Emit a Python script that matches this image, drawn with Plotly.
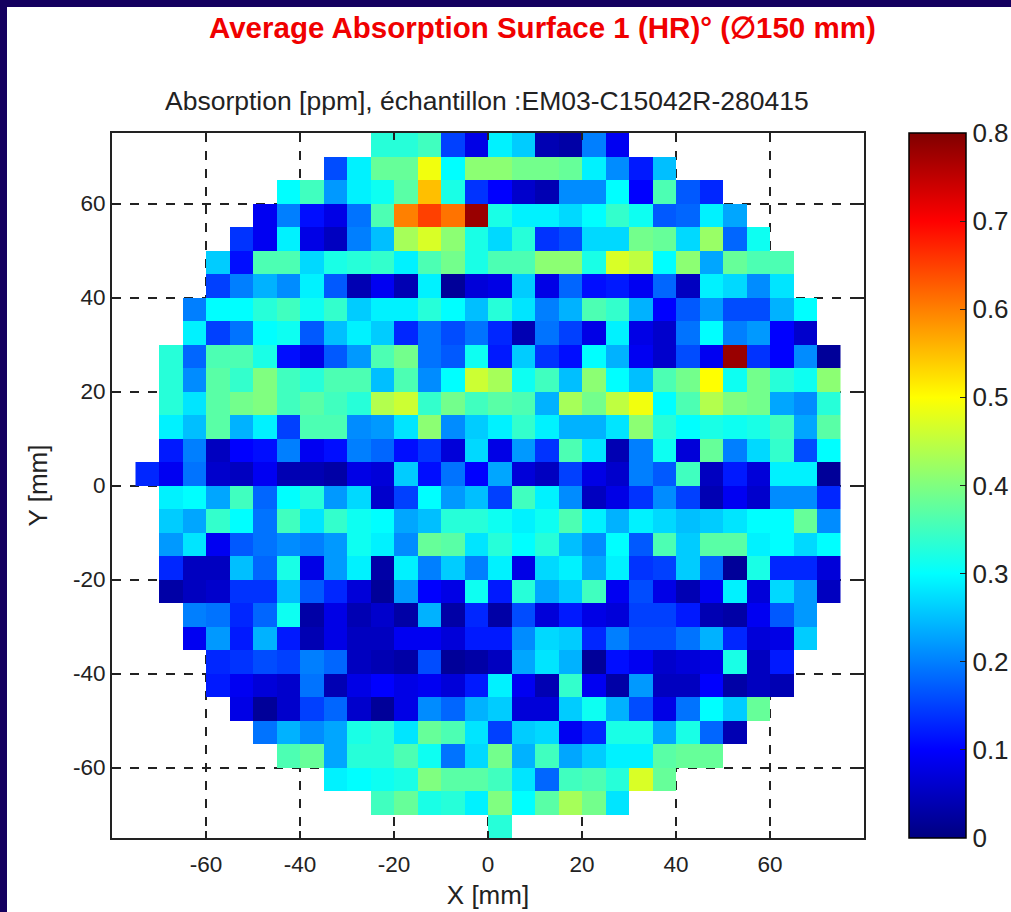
import plotly.graph_objects as go

N = None
x_edges = [-75 + 5 * i for i in range(31)]
y_edges = [75 - 5 * i for i in range(31)]

row_00 = [N]*10 + [.33,.33,.35,.15,.08,.29,.26,.04,.03,.20,.09] + [N]*9
row_01 = [N]*8 + [.16,.29,.38,.38,.49,.30,.41,.41,.39,.39,.38,.29,.21,.12,.25] + [N]*7
row_02 = [N]*6 + [.30,.35,.22,.29,.31,.37,.55,.32,.14,.10,.06,.04,.21,.21,.30,.10,.36,.17,.13] + [N]*5
row_03 = [N]*5 + [.09,.20,.11,.08,.19,.36,.60,.65,.61,.78,.32,.29,.29,.27,.30,.34,.31,.17,.18,.29,.23] + [N]*4
row_04 = [N]*4 + [.14,.09,.29,.08,.05,.20,.25,.43,.47,.41,.32,.27,.33,.14,.16,.27,.27,.39,.38,.27,.42,.18,.31] + [N]*3
row_05 = [N]*3 + [.26,.11,.36,.36,.27,.32,.33,.34,.29,.36,.39,.32,.36,.36,.41,.41,.32,.47,.45,.30,.41,.23,.38,.36,.36] + [N]*2
row_06 = [N]*3 + [.15,.20,.24,.21,.29,.17,.04,.09,.04,.29,.02,.07,.08,.26,.08,.18,.11,.12,.09,.18,.05,.29,.27,.21,.28] + [N]*2
row_07 = [N]*2 + [.20,.30,.30,.33,.35,.31,.34,.26,.29,.29,.33,.30,.25,.33,.28,.20,.24,.36,.34,.24,.10,.17,.22,.16,.16,.24,.30] + [N]
row_08 = [N]*2 + [.29,.15,.19,.30,.31,.17,.25,.29,.26,.13,.19,.16,.19,.13,.04,.19,.15,.08,.29,.08,.06,.19,.30,.20,.22,.10,.06] + [N]
row_09 = [N] + [.33,.18,.36,.36,.32,.11,.08,.17,.22,.36,.39,.19,.17,.31,.12,.26,.14,.11,.30,.24,.09,.06,.16,.09,.78,.14,.10,.21,.02]
row_10 = [N] + [.33,.21,.37,.34,.40,.35,.33,.36,.36,.25,.36,.21,.30,.46,.43,.31,.35,.25,.41,.30,.25,.36,.39,.50,.31,.39,.33,.31,.41]
row_11 = [N] + [.33,.28,.37,.39,.40,.35,.37,.35,.33,.44,.46,.34,.39,.35,.37,.36,.24,.43,.39,.45,.49,.30,.36,.44,.40,.39,.23,.21,.33]
row_12 = [N] + [.29,.25,.37,.24,.29,.15,.36,.36,.21,.22,.28,.41,.21,.26,.29,.34,.29,.24,.24,.28,.41,.33,.30,.32,.31,.32,.35,.23,.37]
row_13 = [N] + [.12,.20,.05,.10,.11,.20,.09,.11,.20,.18,.11,.14,.07,.27,.08,.22,.14,.36,.28,.04,.20,.31,.07,.38,.20,.27,.34,.16,.30]
row_14 = [.13,.09,.19,.06,.05,.09,.04,.04,.03,.08,.07,.26,.11,.19,.10,.23,.07,.05,.15,.08,.06,.20,.17,.35,.05,.12,.07,.29,.29,.02]
row_15 = [N] + [.29,.30,.23,.35,.18,.30,.33,.22,.27,.06,.15,.30,.22,.25,.15,.35,.29,.21,.05,.08,.14,.21,.15,.04,.09,.06,.21,.21,.13]
row_16 = [N] + [.26,.23,.34,.30,.19,.35,.28,.34,.31,.30,.23,.25,.33,.33,.31,.29,.31,.36,.29,.24,.29,.27,.25,.26,.28,.30,.30,.38,.21]
row_17 = [N] + [.22,.28,.09,.17,.19,.21,.20,.22,.31,.29,.21,.38,.37,.28,.33,.30,.33,.25,.21,.30,.17,.36,.26,.37,.37,.29,.30,.27,.30]
row_18 = [N] + [.13,.05,.05,.25,.18,.32,.08,.22,.29,.03,.29,.20,.26,.20,.29,.08,.27,.29,.23,.29,.14,.15,.26,.18,.02,.32,.13,.13,.07]
row_19 = [N] + [.03,.05,.06,.14,.14,.25,.17,.13,.07,.02,.22,.10,.08,.31,.12,.33,.23,.26,.35,.09,.16,.08,.04,.09,.29,.07,.27,.22,.05]
row_20 = [N]*2 + [.20,.19,.13,.18,.31,.03,.08,.04,.06,.03,.24,.03,.13,.03,.16,.07,.12,.08,.07,.15,.15,.12,.04,.03,.09,.17,.22] + [N]
row_21 = [N]*2 + [.09,.22,.12,.24,.12,.04,.08,.05,.05,.09,.09,.07,.12,.12,.21,.27,.26,.13,.20,.16,.16,.19,.24,.13,.07,.08,.26] + [N]
row_22 = [N]*3 + [.13,.14,.16,.15,.20,.18,.05,.04,.03,.16,.02,.03,.05,.23,.28,.24,.02,.11,.09,.06,.07,.08,.32,.05,.12] + [N]*2
row_23 = [N]*3 + [.12,.09,.07,.06,.19,.04,.08,.10,.08,.09,.07,.12,.29,.09,.04,.34,.09,.03,.22,.05,.05,.10,.03,.05,.04] + [N]*2
row_24 = [N]*4 + [.08,.02,.06,.15,.18,.06,.02,.08,.21,.18,.24,.26,.07,.07,.26,.31,.24,.16,.08,.19,.30,.26,.38] + [N]*3
row_25 = [N]*5 + [.19,.24,.21,.23,.32,.33,.28,.38,.36,.28,.15,.26,.27,.09,.13,.32,.32,.23,.32,.18,.04] + [N]*4
row_26 = [N]*6 + [.36,.38,.23,.33,.33,.36,.31,.19,.27,.39,.24,.35,.23,.26,.29,.29,.37,.38,.38] + [N]*5
row_27 = [N]*8 + [.29,.30,.31,.32,.40,.37,.37,.35,.28,.18,.35,.36,.33,.47,.38] + [N]*7
row_28 = [N]*10 + [.35,.38,.32,.33,.29,.40,.30,.37,.43,.39,.28] + [N]*9
row_29 = [N]*15 + [.33] + [N]*14

absorption = [row_00,row_01,row_02,row_03,row_04,row_05,row_06,row_07,row_08,row_09,
              row_10,row_11,row_12,row_13,row_14,row_15,row_16,row_17,row_18,row_19,
              row_20,row_21,row_22,row_23,row_24,row_25,row_26,row_27,row_28,row_29]

axis_ticks = [-60, -40, -20, 0, 20, 40, 60]
axis_labels = ["-60", "-40", "-20", "0", "20", "40", "60"]
bar_ticks = [0, 0.1, 0.2, 0.3, 0.4, 0.5, 0.6, 0.7, 0.8]
bar_labels = ["0", "0.1", "0.2", "0.3", "0.4", "0.5", "0.6", "0.7", "0.8"]

jet = [[0, "rgb(0,0,128)"], [0.125, "rgb(0,0,255)"], [0.375, "rgb(0,255,255)"],
       [0.625, "rgb(255,255,0)"], [0.875, "rgb(255,0,0)"], [1, "rgb(128,0,0)"]]

W, H = 1011, 912
L, R, T, B = 112, 864, 133, 838
FONT = "Liberation Sans, Arial, sans-serif"
INK = "#222222"
FRAME = "#14005f"

fig = go.Figure(go.Heatmap(
    x=x_edges, y=y_edges, z=absorption, zmin=0, zmax=0.8, colorscale=jet,
    hoverongaps=False,
    colorbar=dict(
        x=909 / W, xanchor="left", xpad=0, ypad=0,
        y=1 - T / H, yanchor="top", len=(B - T) / H, lenmode="fraction",
        thickness=57, thicknessmode="pixels",
        tickvals=bar_ticks, ticktext=bar_labels,
        ticks="inside", ticklen=6, tickcolor="#222222", tickwidth=1,
        outlinecolor="black", outlinewidth=1.5,
        tickfont=dict(family=FONT, size=26, color=INK),
    ),
))

common = dict(
    showline=True, mirror="ticks", linecolor="#222222", linewidth=2,
    ticks="inside", ticklen=7, tickcolor="#222222", tickwidth=1.5,
    tickvals=axis_ticks, ticktext=axis_labels,
    tickfont=dict(family=FONT, size=22.5, color=INK),
    showgrid=True, gridcolor="#222222", griddash="dash", gridwidth=1.5,
    zeroline=False,
)

fig.update_layout(
    width=W, height=H,
    margin=dict(l=0, r=0, t=0, b=0, autoexpand=False),
    paper_bgcolor="white", plot_bgcolor="white",
    font=dict(family=FONT),
    xaxis=dict(common, domain=[L / W, R / W], range=[-80, 80], ticklabelstandoff=5,
               title=dict(text="X [mm]", font=dict(family=FONT, size=26, color=INK), standoff=10)),
    yaxis=dict(common, domain=[1 - B / H, 1 - T / H], range=[-75, 75],
               title=dict(text="Y [mm]", font=dict(family=FONT, size=26, color=INK), standoff=18)),
    shapes=[
        dict(type="rect", xref="paper", yref="paper", x0=0, x1=1, y0=1 - 7 / H, y1=1,
             fillcolor=FRAME, line_width=0, layer="below"),
        dict(type="rect", xref="paper", yref="paper", x0=0, x1=7 / W, y0=0, y1=1,
             fillcolor=FRAME, line_width=0, layer="below"),
    ],
    annotations=[
        dict(text="<b>Average Absorption Surface 1 (HR)° (∅150 mm)</b>",
             xref="paper", yref="paper", x=542 / W, y=1 - 28 / H, xanchor="center", yanchor="middle",
             showarrow=False, font=dict(family=FONT, size=29.5, color="#f00000")),
        dict(text="Absorption [ppm], échantillon :EM03-C15042R-280415",
             xref="paper", yref="paper", x=487 / W, y=1 - 101 / H, xanchor="center", yanchor="middle",
             showarrow=False, font=dict(family=FONT, size=26.5, color=INK)),
    ],
)

fig.write_html("out.html", config={"displayModeBar": False},
               post_script="document.body.style.margin='0';document.body.style.overflow='hidden';")
